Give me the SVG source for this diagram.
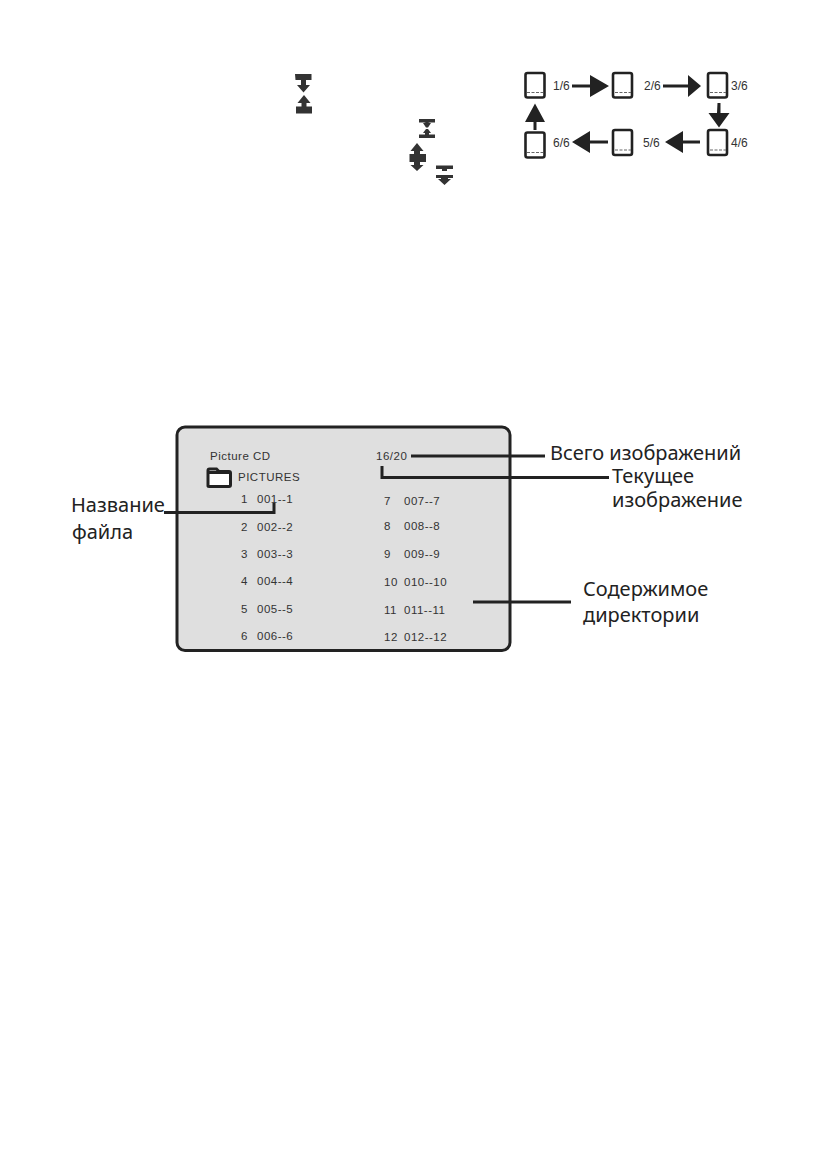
<svg xmlns="http://www.w3.org/2000/svg" width="822" height="1162" viewBox="0 0 822 1162">
<style>
.s{font-family:"Liberation Sans",Arial,sans-serif;font-size:11.500px;fill:#333;letter-spacing:.5px}
.t{font-family:"Liberation Sans",Arial,sans-serif;font-size:12px;fill:#333}
.l{font-family:"Noto Sans","Open Sans",sans-serif;font-size:20px;fill:#222}
.b{fill:#fff;stroke:#222;stroke-width:2.6}
.d{stroke:#666;stroke-width:1;stroke-dasharray:3 1.5;fill:none}
.c{stroke:#222;stroke-width:3;fill:none}
.i{fill:#333}
.h{fill:#222}
</style>
<rect width="822" height="1162" fill="#fff"/>
<g id="icons">
<path class="i" d="M295 74h16.500v6h-5.500v5h4l-6.500 7.500l-6.500-7.500h4v-5h-5.500z"/>
<path class="i" d="M304 95l6.500 8h-4v3.500h5.500v7h-16v-7h5.500v-3.500h-4z"/>
<path class="i" d="M419 119h16v3.500h-5l-2 .5h3l-3 4.500h-2l-3-4.500h3l-2-.5h-5zM426 129h2l3 4h-2v1.500h6v3.500h-16v-3.500h6v-1.500h-2z"/>
<path class="i" d="M417 143l6.500 8h-3.500v3h6v8h-6v3h3.500l-6.500 6l-6.500-6h3.500v-3h-4.500v-8h4.500v-3h-3.500z"/>
<path class="i" d="M436 165.500h17v3.500h-6v2h-5v-2h-6zM436 175h17v3h-5v1h3l-6.500 6l-6.500-6h3v-1h-5z"/>
</g>
<g id="slides">
<rect class="b" x="525.500" y="73" width="19" height="24.500" rx="2"/><path class="d" d="M527 92.500h16"/>
<rect class="b" x="613" y="73" width="19" height="24.500" rx="2"/><path class="d" d="M615 92.500h16"/>
<rect class="b" x="708" y="73" width="19" height="24.500" rx="2"/><path class="d" d="M710 92.500h16"/>
<rect class="b" x="708" y="130" width="19" height="25" rx="2"/><path class="d" d="M710 150h16"/>
<rect class="b" x="613" y="130" width="19" height="25" rx="2"/><path class="d" d="M615 150h16"/>
<rect class="b" x="525.500" y="132.500" width="19" height="25" rx="2"/><path class="d" d="M527 152.500h16"/>
<text class="t" x="553" y="90">1/6</text>
<text class="t" x="644" y="90">2/6</text>
<text class="t" x="731" y="90">3/6</text>
<text class="t" x="731" y="147">4/6</text>
<text class="t" x="643" y="147">5/6</text>
<text class="t" x="553" y="147">6/6</text>
</g>
<g id="slide-arrows">
<path class="h" d="M572 84.500h18v-9.500l19 11l-19 11v-9.500h-18z"/>
<path class="h" d="M663 84.500h25v-9.500l13 11l-13 11v-9.500h-25z"/>
<path class="h" d="M717.500 103h3v10h9l-10.500 14.500l-10.500-14.500h8.500z"/>
<path class="h" d="M608 140.500v3h-18v9.500l-18-11l18-11v9.500z"/>
<path class="h" d="M700 140.500v3h-17v9.500l-18-11l18-11v9.500z"/>
<path class="h" d="M533.500 130v-8h-8.500l10-18.500l10 18.500h-8.500v8z"/>
</g>
<g id="panel">
<rect x="177" y="427" width="333" height="223.500" rx="8" fill="#dfdfdf" stroke="#222" stroke-width="3"/>
</g>
<g id="panel-text">
<text class="s" x="210" y="460">Picture CD</text>
<path d="M208 486.500v-16q0-1.500 1.500-1.500h7l2.500 2.500h10q1.500 0 1.500 1.500v12q0 1.500-1.500 1.500h-20q-1 0-1-1z" fill="#fff" stroke="#222" stroke-width="3"/>
<path d="M209 471h20v3h-20z" fill="#222"/>
<text class="s" x="238" y="481">PICTURES</text>
<text class="s" x="376" y="460">16/20</text>
<text class="s" x="241" y="503">1</text><text class="s" x="257" y="503">001--1</text>
<text class="s" x="241" y="531">2</text><text class="s" x="257" y="531">002--2</text>
<text class="s" x="241" y="558">3</text><text class="s" x="257" y="558">003--3</text>
<text class="s" x="241" y="585">4</text><text class="s" x="257" y="585">004--4</text>
<text class="s" x="241" y="613">5</text><text class="s" x="257" y="613">005--5</text>
<text class="s" x="241" y="640">6</text><text class="s" x="257" y="640">006--6</text>
<text class="s" x="384" y="505">7</text><text class="s" x="404" y="505">007--7</text>
<text class="s" x="384" y="530">8</text><text class="s" x="404" y="530">008--8</text>
<text class="s" x="384" y="558">9</text><text class="s" x="404" y="558">009--9</text>
<text class="s" x="384" y="586">10</text><text class="s" x="404" y="586">010--10</text>
<text class="s" x="384" y="614">11</text><text class="s" x="404" y="614">011--11</text>
<text class="s" x="384" y="641">12</text><text class="s" x="404" y="641">012--12</text>
</g>
<g id="connectors">
<path class="c" d="M164 512.500H274V503"/>
<path class="c" d="M411 456H545"/>
<path class="c" d="M382 466V477.500H609"/>
<path class="c" d="M473 602H571"/>
</g>
<g id="labels">
<text class="l" x="550" y="460">Всего изображений</text>
<text class="l" x="612" y="483">Текущее</text>
<text class="l" x="612" y="507">изображение</text>
<text class="l" x="71" y="512">Название</text>
<text class="l" x="72" y="539">файла</text>
<text class="l" x="583" y="596">Содержимое</text>
<text class="l" x="583" y="622">директории</text>
</g>
</svg>
